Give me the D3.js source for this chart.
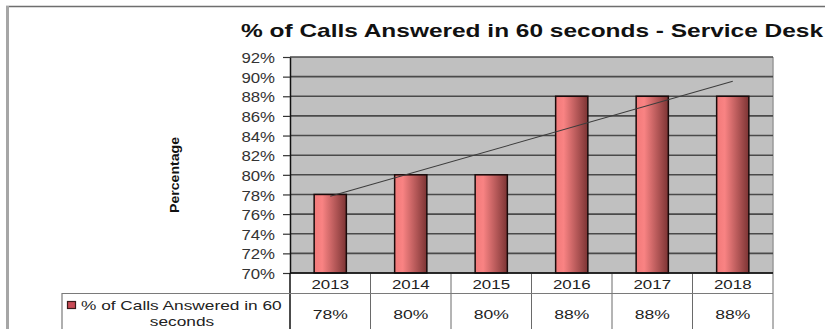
<!DOCTYPE html>
<html>
<head>
<meta charset="utf-8">
<script src="https://cdn.jsdelivr.net/npm/d3@7"></script>
<style>
  html, body { margin: 0; padding: 0; background: #fff; }
  svg { display: block; font-family: Arial, "Liberation Sans", sans-serif; }
</style>
</head>
<body>
<svg id="chart" width="825" height="329"></svg>
<script>
// Chart data
const titleText = "% of Calls Answered in 60 seconds - Service Desk";
const axisTitle = "Percentage";
const seriesName = "% of Calls Answered in 60 seconds";
const years = ["2013", "2014", "2015", "2016", "2017", "2018"];
const answeredPct = [78, 80, 80, 88, 88, 88];
const yTicks = [70, 72, 74, 76, 78, 80, 82, 84, 86, 88, 90, 92];

const svg = d3.select("#chart");

// Layout
const plot = { left: 290, right: 773, top: 57, bottom: 273 };
const catRowBottom = 293;
const legendLeft = 62;

const x = d3.scaleBand().domain(years).range([plot.left, plot.right]).padding(0);
const y = d3.scaleLinear().domain([d3.min(yTicks), d3.max(yTicks)]).range([plot.bottom, plot.top]);

// Gradient for the cylinder-like bars
const defs = svg.append("defs");
const grad = defs.append("linearGradient").attr("id", "barGrad")
  .attr("x1", "0%").attr("x2", "100%").attr("y1", "0%").attr("y2", "0%");
grad.append("stop").attr("offset", "0%").attr("stop-color", "#f27a7a");
grad.append("stop").attr("offset", "25%").attr("stop-color", "#f98383");
grad.append("stop").attr("offset", "100%").attr("stop-color", "#7c3434");

// Outer frame
svg.append("line").attr("x1", 6).attr("x2", 825).attr("y1", 6.5).attr("y2", 6.5)
  .attr("stroke", "#6e6e6e").attr("stroke-width", 1.5);
svg.append("rect").attr("x", 6).attr("y", 6).attr("width", 3).attr("height", 323)
  .attr("fill", "#a6a6a6");

// Title
svg.append("text")
  .attr("x", 241).attr("y", 37)
  .attr("font-size", 19).attr("font-weight", "bold").attr("fill", "#111")
  .attr("textLength", 582).attr("lengthAdjust", "spacingAndGlyphs")
  .text(titleText);

// Axis title
svg.append("text")
  .attr("transform", "translate(179,175) rotate(-90)")
  .attr("text-anchor", "middle")
  .attr("font-size", 12.5).attr("font-weight", "bold").attr("fill", "#111")
  .attr("textLength", 76).attr("lengthAdjust", "spacingAndGlyphs")
  .text(axisTitle);

// Plot area
svg.append("rect")
  .attr("x", plot.left).attr("y", plot.top)
  .attr("width", plot.right - plot.left).attr("height", plot.bottom - plot.top)
  .attr("fill", "#c0c0c0");
svg.append("line")
  .attr("x1", plot.right).attr("x2", plot.right).attr("y1", plot.top).attr("y2", plot.bottom)
  .attr("stroke", "#9a9a9a").attr("stroke-width", 1.5);

// Gridlines
svg.append("g").selectAll("line").data(yTicks).join("line")
  .attr("x1", plot.left).attr("x2", plot.right)
  .attr("y1", d => y(d)).attr("y2", d => y(d))
  .attr("stroke", "#4a4a4a").attr("stroke-width", 1.6);

// Y axis with ticks and labels
const yAxis = svg.append("g")
  .attr("transform", `translate(${plot.left},0)`)
  .call(d3.axisLeft(y).tickValues(yTicks).tickSize(7).tickSizeOuter(0).tickFormat(d => d + "%"));
yAxis.select(".domain").attr("stroke", "#111").attr("stroke-width", 1.5);
yAxis.selectAll(".tick line").attr("stroke", "#333").attr("stroke-width", 1.2);
yAxis.selectAll(".tick text")
  .attr("x", null).attr("dy", "0.4em")
  .attr("transform", "translate(-15,0) scale(1.2,1)")
  .attr("font-size", 14).attr("fill", "#333")
  .attr("font-family", "Arial, 'Liberation Sans', sans-serif");

// Bars
const barW = x.bandwidth() * 0.4;
svg.append("g").selectAll("rect").data(answeredPct).join("rect")
  .attr("x", (d, i) => x(years[i]) + (x.bandwidth() - barW) / 2)
  .attr("y", d => y(d))
  .attr("width", barW)
  .attr("height", d => y(y.domain()[0]) - y(d))
  .attr("fill", "url(#barGrad)")
  .attr("stroke", "#1a0a0a").attr("stroke-width", 1.5);

// Linear trendline (least squares over the series)
const idx = answeredPct.map((d, i) => i + 1);
const mx = d3.mean(idx), my = d3.mean(answeredPct);
const slope = d3.sum(idx, (xi, i) => (xi - mx) * (answeredPct[i] - my)) / d3.sum(idx, xi => (xi - mx) ** 2);
const intercept = my - slope * mx;
const cx = yr => x(yr) + x.bandwidth() / 2;
svg.append("line")
  .attr("x1", cx(years[0])).attr("y1", y(intercept + slope * 1))
  .attr("x2", cx(years[years.length - 1])).attr("y2", y(intercept + slope * years.length))
  .attr("stroke", "#3c3c3c").attr("stroke-width", 1.1);

// Data table
const table = svg.append("g");
const bounds = years.map(d => x(d)).concat([plot.right]);
table.selectAll("line.v").data(bounds).join("line").attr("class", "v")
  .attr("x1", d => d).attr("x2", d => d)
  .attr("y1", plot.bottom).attr("y2", 329)
  .attr("stroke", d => d === plot.left ? "#111" : "#6a6a6a")
  .attr("stroke-width", d => d === plot.left ? 1.5 : 1);
table.append("line")
  .attr("x1", legendLeft).attr("x2", plot.right)
  .attr("y1", catRowBottom + 0.5).attr("y2", catRowBottom + 0.5)
  .attr("stroke", "#7a7a7a").attr("stroke-width", 1.2);
table.append("line")
  .attr("x1", legendLeft).attr("x2", legendLeft)
  .attr("y1", catRowBottom).attr("y2", 329)
  .attr("stroke", "#7a7a7a").attr("stroke-width", 1.2);
table.append("line")
  .attr("x1", plot.left).attr("x2", plot.right)
  .attr("y1", plot.bottom).attr("y2", plot.bottom)
  .attr("stroke", "#111").attr("stroke-width", 1.5);

// Category row
table.selectAll("text.cat").data(years).join("text").attr("class", "cat")
  .attr("text-anchor", "middle")
  .attr("transform", d => `translate(${cx(d)},289) scale(1.3,1)`)
  .attr("font-size", 13).attr("fill", "#222")
  .text(d => d);

// Value row
table.selectAll("text.val").data(answeredPct).join("text").attr("class", "val")
  .attr("text-anchor", "middle")
  .attr("transform", (d, i) => `translate(${cx(years[i])},319) scale(1.3,1)`)
  .attr("font-size", 13.5).attr("fill", "#222")
  .text(d => d + "%");

// Legend key and series name
table.append("rect")
  .attr("x", 67.5).attr("y", 301.5).attr("width", 8).attr("height", 7)
  .attr("fill", "#c94a55").attr("stroke", "#3a1a1a").attr("stroke-width", 1.2);
const words = seriesName.split(" ");
const line1 = words.slice(0, -1).join(" ");
const line2 = words[words.length - 1];
table.append("text")
  .attr("transform", "translate(81,309.5) scale(1.33,1)")
  .attr("font-size", 13).attr("fill", "#222")
  .text(line1);
table.append("text")
  .attr("text-anchor", "middle")
  .attr("transform", "translate(182,325.5) scale(1.33,1)")
  .attr("font-size", 13).attr("fill", "#222")
  .text(line2);
</script>
</body>
</html>
